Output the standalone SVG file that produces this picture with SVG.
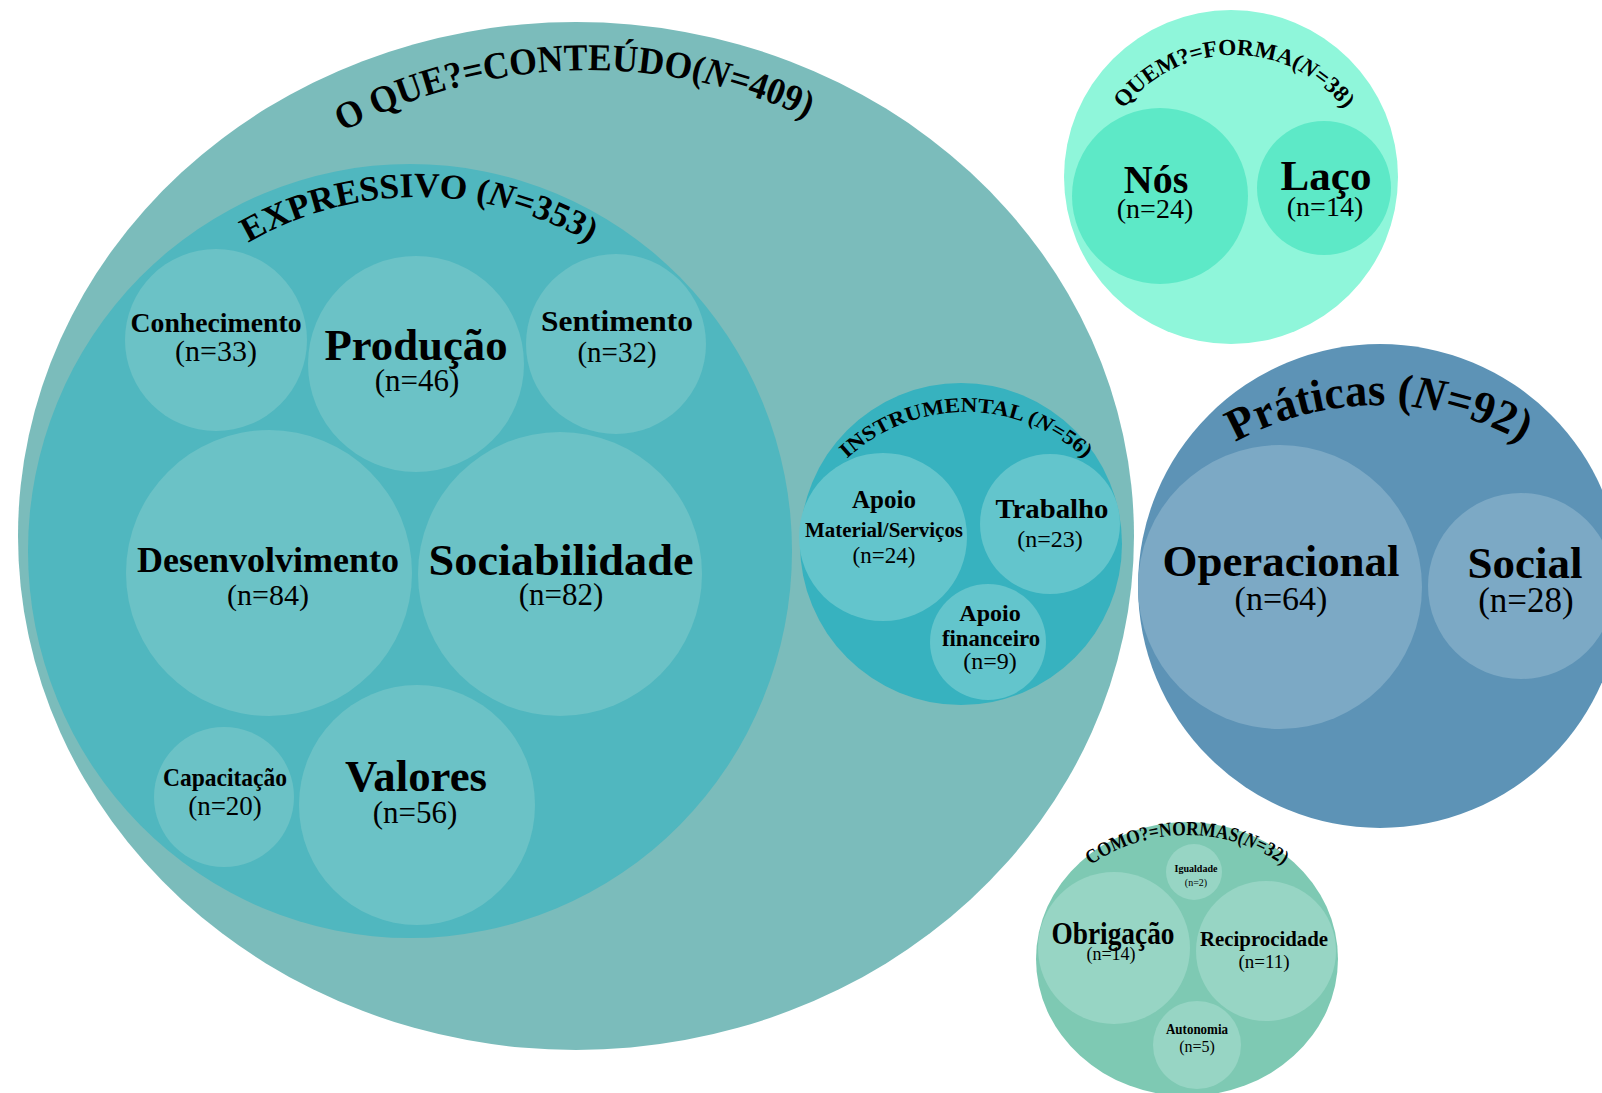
<svg xmlns="http://www.w3.org/2000/svg" width="1602" height="1093" viewBox="0 0 1602 1093">
<style>
text{font-family:"Liberation Serif","Times New Roman",serif;fill:#000;text-anchor:middle}
.b{font-weight:bold}
.n{font-weight:normal}
.arc{font-weight:bold}
.it{font-style:italic}
.c-main{fill:#7bbcbb}
.c-exp{fill:#50b7bf}
.c-exps{fill:#6bc2c6}
.c-ins{fill:#37b2bf}
.c-inss{fill:#63c5cc}
.c-quem{fill:#8ff6da}
.c-quems{fill:#5de9c7}
.c-prat{fill:#5d93b6}
.c-prats{fill:#7ca9c5}
.c-como{fill:#7ec9b3}
.c-comos{fill:#97d5c4}
</style>
<defs>
<path id="p-main" d="M 67 592 A 522 522 0 0 1 1111 592"/>
<path id="p-exp" d="M 78 538 A 341 341 0 0 1 760 538"/>
<path id="p-ins" d="M 791 587 A 175 175 0 0 1 1141 587"/>
<path id="p-quem" d="M 1094 195 A 140 140 0 0 1 1374 195"/>
<path id="p-prat" d="M 1082 702 A 297 297 0 0 1 1676 702"/>
<path id="p-como" d="M 1017 1005 A 170 170 0 0 1 1357 1005"/>
</defs>
<rect width="1602" height="1093" fill="#fff"/>

<g id="conteudo">
<ellipse class="c-main" cx="576" cy="536" rx="558" ry="514"/>
<text class="arc" font-size="38"><textPath href="#p-main" startOffset="804" textLength="482" lengthAdjust="spacingAndGlyphs">O QUE?=CONTEÚDO(<tspan class="it">N</tspan>=409)</textPath></text>
</g>

<g id="expressivo">
<ellipse class="c-exp" cx="410" cy="551" rx="382" ry="387"/>
<text class="arc" font-size="35"><textPath href="#p-exp" startOffset="50%" textLength="358" lengthAdjust="spacingAndGlyphs">EXPRESSIVO (<tspan class="it">N</tspan>=353)</textPath></text>
</g>

<g id="conhecimento">
<circle class="c-exps" cx="216" cy="340" r="91"/>
<text class="b" x="216" y="332" font-size="28" textLength="171" lengthAdjust="spacingAndGlyphs">Conhecimento</text>
<text class="n" x="216" y="361" font-size="30">(n=33)</text>
</g>
<g id="producao">
<circle class="c-exps" cx="416" cy="364" r="108"/>
<text class="b" x="416" y="360" font-size="44" textLength="183" lengthAdjust="spacingAndGlyphs">Produção</text>
<text class="n" x="417" y="391" font-size="31">(n=46)</text>
</g>
<g id="sentimento">
<circle class="c-exps" cx="616" cy="344" r="90"/>
<text class="b" x="617" y="331" font-size="29" textLength="152" lengthAdjust="spacingAndGlyphs">Sentimento</text>
<text class="n" x="617" y="362" font-size="29">(n=32)</text>
</g>
<g id="desenvolvimento">
<circle class="c-exps" cx="269" cy="573" r="143"/>
<text class="b" x="268" y="572" font-size="35" textLength="262" lengthAdjust="spacingAndGlyphs">Desenvolvimento</text>
<text class="n" x="268" y="605" font-size="30">(n=84)</text>
</g>
<g id="sociabilidade">
<circle class="c-exps" cx="560" cy="574" r="142"/>
<text class="b" x="561" y="575" font-size="45" textLength="265" lengthAdjust="spacingAndGlyphs">Sociabilidade</text>
<text class="n" x="561" y="605" font-size="31">(n=82)</text>
</g>
<g id="capacitacao">
<circle class="c-exps" cx="224" cy="797" r="70"/>
<text class="b" x="225" y="786" font-size="25" textLength="124" lengthAdjust="spacingAndGlyphs">Capacitação</text>
<text class="n" x="225" y="815" font-size="27">(n=20)</text>
</g>
<g id="valores">
<ellipse class="c-exps" cx="417" cy="805" rx="118" ry="120"/>
<text class="b" x="416" y="791" font-size="44" textLength="142" lengthAdjust="spacingAndGlyphs">Valores</text>
<text class="n" x="415" y="823" font-size="31">(n=56)</text>
</g>

<g id="instrumental">
<circle class="c-ins" cx="961" cy="544" r="161"/>
<text class="arc" font-size="21"><textPath href="#p-ins" startOffset="50%" textLength="262" lengthAdjust="spacingAndGlyphs">INSTRUMENTAL (<tspan class="it">N</tspan>=56)</textPath></text>
</g>
<g id="apoio-material">
<circle class="c-inss" cx="883" cy="537" r="84"/>
<text class="b" x="884" y="508" font-size="25">Apoio</text>
<text class="b" x="884" y="537" font-size="20" textLength="158" lengthAdjust="spacingAndGlyphs">Material/Serviços</text>
<text class="n" x="884" y="563" font-size="23">(n=24)</text>
</g>
<g id="trabalho">
<circle class="c-inss" cx="1050" cy="524" r="70"/>
<text class="b" x="1052" y="518" font-size="28" textLength="113" lengthAdjust="spacingAndGlyphs">Trabalho</text>
<text class="n" x="1050" y="547" font-size="24">(n=23)</text>
</g>
<g id="apoio-financeiro">
<circle class="c-inss" cx="988" cy="642" r="58"/>
<text class="b" x="990" y="621" font-size="24">Apoio</text>
<text class="b" x="991" y="646" font-size="23" textLength="98" lengthAdjust="spacingAndGlyphs">financeiro</text>
<text class="n" x="990" y="669" font-size="24">(n=9)</text>
</g>

<g id="quem">
<circle class="c-quem" cx="1231" cy="177" r="167"/>
<text class="arc" font-size="23"><textPath href="#p-quem" startOffset="50%" textLength="255" lengthAdjust="spacingAndGlyphs">QUEM?=FORMA(<tspan class="it">N</tspan>=38)</textPath></text>
</g>
<g id="nos">
<circle class="c-quems" cx="1160" cy="196" r="88"/>
<text class="b" x="1156" y="193" font-size="40">Nós</text>
<text class="n" x="1155" y="218" font-size="28">(n=24)</text>
</g>
<g id="laco">
<circle class="c-quems" cx="1324" cy="188" r="67"/>
<text class="b" x="1326" y="190" font-size="43">Laço</text>
<text class="n" x="1325" y="216" font-size="28">(n=14)</text>
</g>

<g id="praticas">
<circle class="c-prat" cx="1380" cy="586" r="242"/>
<text class="arc" font-size="46"><textPath href="#p-prat" startOffset="50%" textLength="300" lengthAdjust="spacingAndGlyphs">Práticas (<tspan class="it">N</tspan>=92)</textPath></text>
</g>
<g id="operacional">
<circle class="c-prats" cx="1280" cy="587" r="142"/>
<text class="b" x="1281" y="576" font-size="45" textLength="237" lengthAdjust="spacingAndGlyphs">Operacional</text>
<text class="n" x="1281" y="610" font-size="34">(n=64)</text>
</g>
<g id="social">
<circle class="c-prats" cx="1521" cy="586" r="93"/>
<text class="b" x="1525" y="578" font-size="45" textLength="115" lengthAdjust="spacingAndGlyphs">Social</text>
<text class="n" x="1526" y="612" font-size="35">(n=28)</text>
</g>

<g id="como">
<ellipse class="c-como" cx="1187" cy="959" rx="151" ry="137"/>
<text class="arc" font-size="20"><textPath href="#p-como" startOffset="50%" textLength="205" lengthAdjust="spacingAndGlyphs">COMO?=NORMAS(<tspan class="it">N</tspan>=32)</textPath></text>
</g>
<g id="igualdade">
<circle class="c-comos" cx="1194" cy="872" r="28"/>
<text class="b" x="1196" y="872" font-size="10">Igualdade</text>
<text class="n" x="1196" y="886" font-size="10">(n=2)</text>
</g>
<g id="obrigacao">
<circle class="c-comos" cx="1114" cy="948" r="76"/>
<text class="b" x="1113" y="944" font-size="31" textLength="123" lengthAdjust="spacingAndGlyphs">Obrigação</text>
<text class="n" x="1111" y="960" font-size="18">(n=14)</text>
</g>
<g id="reciprocidade">
<circle class="c-comos" cx="1266" cy="951" r="70"/>
<text class="b" x="1264" y="946" font-size="21" textLength="128" lengthAdjust="spacingAndGlyphs">Reciprocidade</text>
<text class="n" x="1264" y="968" font-size="19">(n=11)</text>
</g>
<g id="autonomia">
<circle class="c-comos" cx="1197" cy="1045" r="44"/>
<text class="b" x="1197" y="1034" font-size="15" textLength="62" lengthAdjust="spacingAndGlyphs">Autonomia</text>
<text class="n" x="1197" y="1052" font-size="16">(n=5)</text>
</g>

<g id="connectors"/>
</svg>
